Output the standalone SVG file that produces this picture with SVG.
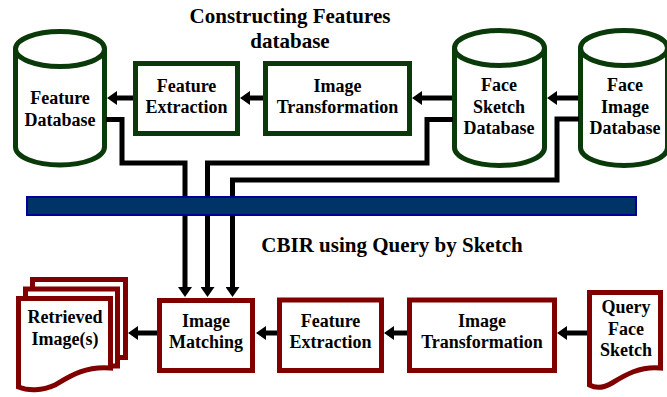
<svg xmlns="http://www.w3.org/2000/svg" width="667" height="397" viewBox="0 0 667 397">
<defs>
<style>
.t{font-family:"Liberation Serif","Times New Roman",serif;font-weight:bold;fill:#000;text-anchor:middle}
.n{font-size:18px}
.h{font-size:21px}
.g{fill:#fff;stroke:#0a3a0a;stroke-width:5}
.gl{fill:none;stroke:#0a3a0a;stroke-width:5}
.m{fill:#fff;stroke:#800000;stroke-width:5}
.a{fill:none;stroke:#000;stroke-width:5;stroke-linejoin:miter;marker-end:url(#ah)}
</style>
<marker id="ah" markerUnits="userSpaceOnUse" markerWidth="10" markerHeight="14" refX="2" refY="7" orient="auto">
<path d="M0,0 L10,7 L0,14 Z" fill="#000"/>
</marker>
</defs>
<rect width="667" height="397" fill="#fff"/>

<text class="t h" x="290" y="23">Constructing Features</text>
<text class="t h" x="290" y="48">database</text>
<text class="t h" x="392" y="252">CBIR using Query by Sketch</text>

<g id="feature-database">
<path class="g" d="M15.5,49 V147 A44.5,18 0 0 0 104.5,147 V49 A44.5,17.5 0 0 0 15.5,49 Z"/>
<path class="gl" d="M15.5,49 A44.5,17.5 0 0 0 104.5,49"/>
<text class="t n" x="60" y="104">Feature</text>
<text class="t n" x="60" y="125.5">Database</text>
</g>

<g id="feature-extraction-top">
<rect class="g" x="135.5" y="63.5" width="102" height="70"/>
<text class="t n" x="186.5" y="92">Feature</text>
<text class="t n" x="186.5" y="113">Extraction</text>
</g>

<g id="image-transformation-top">
<rect class="g" x="265.5" y="63.5" width="144" height="70"/>
<text class="t n" x="337.5" y="92">Image</text>
<text class="t n" x="337.5" y="113">Transformation</text>
</g>

<g id="face-sketch-database">
<path class="g" d="M454.5,48 V147.5 A45,18 0 0 0 544.5,147.5 V48 A45,17.5 0 0 0 454.5,48 Z"/>
<path class="gl" d="M454.5,48 A45,17.5 0 0 0 544.5,48"/>
<text class="t n" x="499" y="91">Face</text>
<text class="t n" x="499" y="112.5">Sketch</text>
<text class="t n" x="499" y="133.5">Database</text>
</g>

<g id="face-image-database">
<path class="g" d="M580.5,48 V147.5 A43.5,18 0 0 0 667.5,147.5 V48 A43.5,17.5 0 0 0 580.5,48 Z"/>
<path class="gl" d="M580.5,48 A43.5,17.5 0 0 0 667.5,48"/>
<text class="t n" x="625" y="91">Face</text>
<text class="t n" x="625" y="112.5">Image</text>
<text class="t n" x="625" y="133.5">Database</text>
</g>

<g id="retrieved-images">
<rect class="m" x="32.5" y="279.5" width="93" height="78"/>
<rect class="m" x="25.5" y="289" width="92" height="77"/>
<path class="m" d="M18.5,298.5 H110.5 V368 C85,366 70,376 55,385 C42,391 28,391 18.5,387 Z"/>
<text class="t n" x="65" y="323">Retrieved</text>
<text class="t n" x="65" y="345">Image(s)</text>
</g>

<g id="image-matching">
<rect class="m" x="159.5" y="300.5" width="93" height="70"/>
<text class="t n" x="206" y="327">Image</text>
<text class="t n" x="206" y="348">Matching</text>
</g>

<g id="feature-extraction-bottom">
<rect class="m" x="279.5" y="300" width="102" height="70.5"/>
<text class="t n" x="330.5" y="327">Feature</text>
<text class="t n" x="330.5" y="348">Extraction</text>
</g>

<g id="image-transformation-bottom">
<rect class="m" x="409.5" y="300" width="145" height="70.5"/>
<text class="t n" x="482" y="327">Image</text>
<text class="t n" x="482" y="348">Transformation</text>
</g>

<g id="query-face-sketch">
<path class="m" d="M589.5,292.5 H660.5 V368 C640,366 625,375 612,383 C602,389 595,388 589.5,385 Z"/>
<text class="t n" x="626" y="313">Query</text>
<text class="t n" x="626" y="335">Face</text>
<text class="t n" x="626" y="356">Sketch</text>
</g>

<g id="connectors">
<path class="a" d="M133,98 H115"/>
<path class="a" d="M263,98 H248"/>
<path class="a" d="M452,98 H420"/>
<path class="a" d="M578,98 H555"/>
<path class="a" d="M157,333 H136"/>
<path class="a" d="M277,333 H264"/>
<path class="a" d="M407,333 H392"/>
<path class="a" d="M587,333 H565"/>
<path class="a" d="M106,119.5 H122 V163 H185 V289"/>
<path class="a" d="M453,119.5 H427 V163 H207.5 V289"/>
<path class="a" d="M579,119 H557 V180 H232.5 V289"/>
</g>

<rect x="27" y="197" width="609" height="18" fill="#003366" stroke="#000099" stroke-width="2"/>
</svg>
